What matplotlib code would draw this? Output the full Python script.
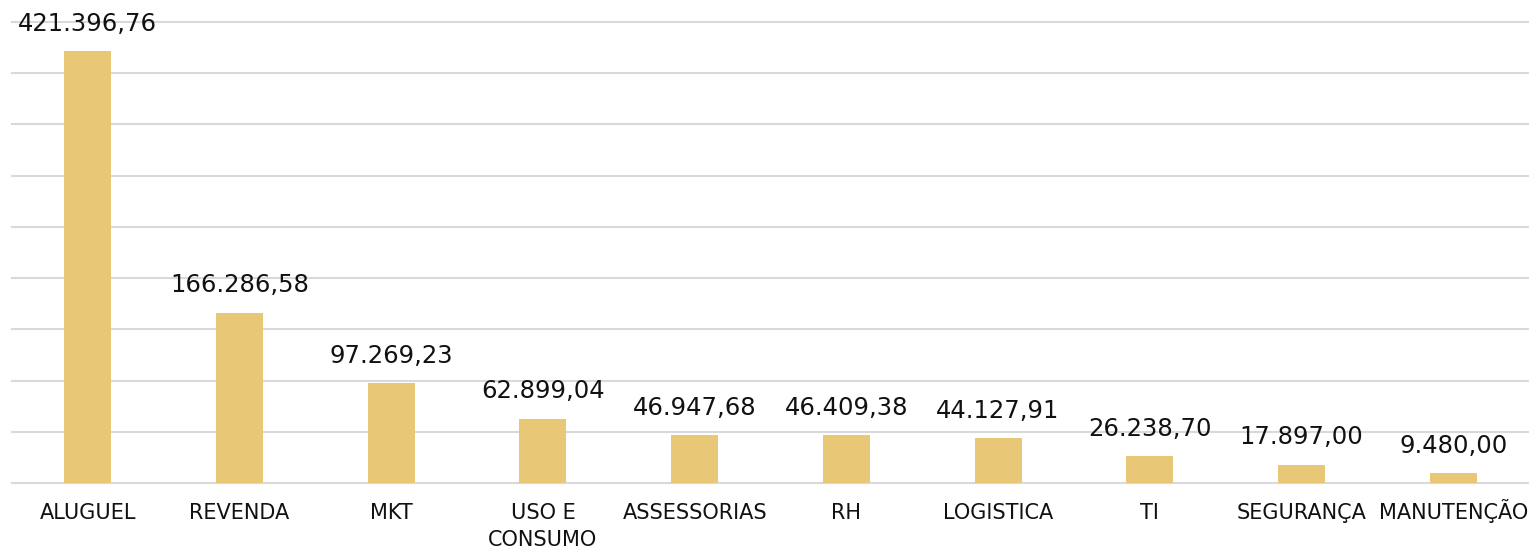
import matplotlib.pyplot as plt
import numpy as np

categories = ["ALUGUEL", "REVENDA", "MKT", "USO E\nCONSUMO", "ASSESSORIAS",
              "RH", "LOGISTICA", "TI", "SEGURANÇA", "MANUTENÇÃO"]
values = [421396.76, 166286.58, 97269.23, 62899.04, 46947.68,
          46409.38, 44127.91, 26238.70, 17897.00, 9480.00]


def br_format(v: float) -> str:
    s = f"{v:,.2f}"
    return s.replace(",", "X").replace(".", ",").replace("X", ".")


fig = plt.figure(figsize=(15.29, 5.48), dpi=100)
ax = fig.add_axes([12 / 1529, 1 - 483 / 548, 1517 / 1529, 461 / 548])

x = np.arange(len(categories))
bars = ax.bar(x, values, width=0.31, color="#E8C776", zorder=2)

for b, v in zip(bars, values):
    ax.annotate(br_format(v), (b.get_x() + b.get_width() / 2, b.get_height()),
                xytext=(0, 11), textcoords="offset points",
                ha="center", va="bottom", fontsize=17.5, color="#111111")

# category labels, one line at a time so every first line sits on one baseline
for xi, name in zip(x, categories):
    for k, line in enumerate(name.split("\n")):
        ax.annotate(line, (xi, 0), xycoords=("data", "axes fraction"),
                    xytext=(0, -26 - 19.5 * k), textcoords="offset points",
                    ha="center", va="baseline", fontsize=15, color="#111111",
                    annotation_clip=False)

ax.set_xlim(-0.5, len(categories) - 0.5)
ax.set_ylim(0, 450000)
ax.set_yticks(np.arange(0, 450001, 50000))
ax.yaxis.grid(True, color="#D9D9D9", linewidth=1.5, zorder=0)
for gl in ax.get_ygridlines():
    gl.set_clip_on(False)
ax.set_yticklabels([])
ax.set_xticks([])
ax.tick_params(axis="y", length=0)
for spine in ax.spines.values():
    spine.set_visible(False)

fig.savefig("out.png", dpi=100)
